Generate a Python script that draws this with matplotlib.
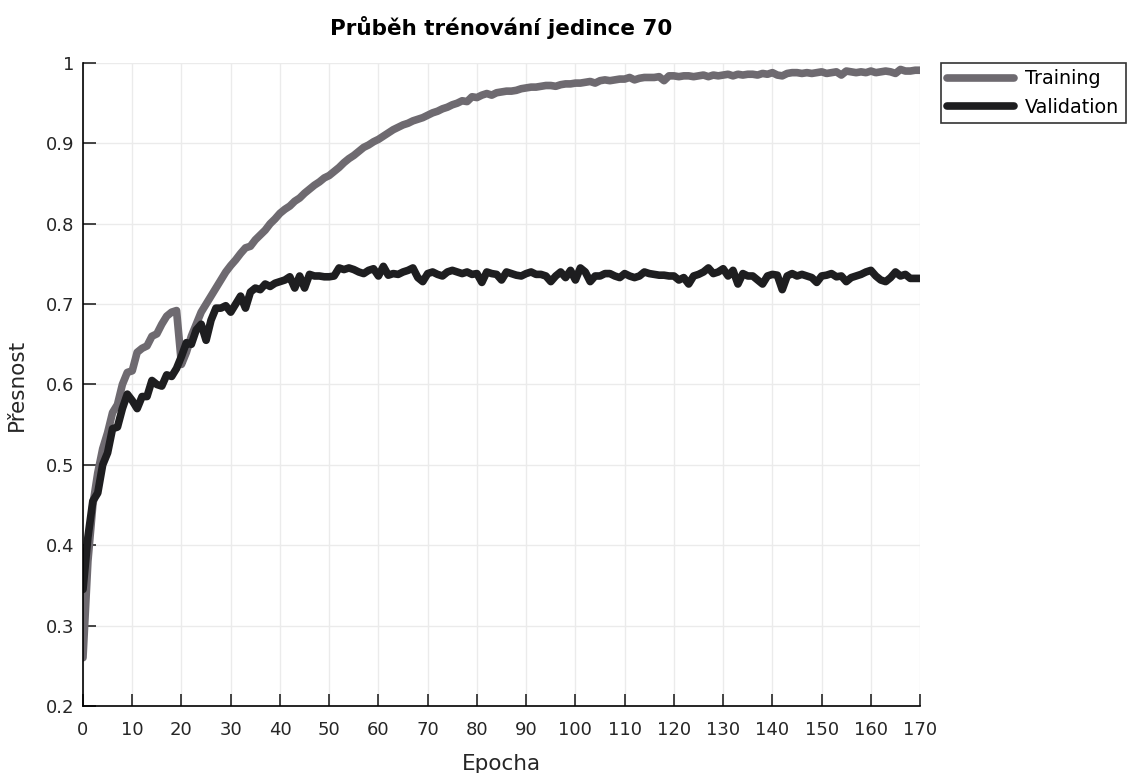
import matplotlib
matplotlib.use("Agg")
import matplotlib.pyplot as plt
import numpy as np

plt.rcParams['font.family'] = ['DejaVu Sans']

epochs = list(range(0, 171))

training = [
    0.26, 0.38, 0.45, 0.49, 0.52, 0.54, 0.565, 0.575, 0.60, 0.615,
    0.617, 0.64, 0.645, 0.648, 0.66, 0.663, 0.675, 0.685, 0.69, 0.692,
    0.625, 0.64, 0.66, 0.675, 0.69, 0.70, 0.71, 0.72, 0.73, 0.74,
    0.748, 0.755, 0.763, 0.77, 0.772, 0.78, 0.786, 0.792, 0.80, 0.806,
    0.813, 0.818, 0.822, 0.828, 0.832, 0.838, 0.843, 0.848, 0.852, 0.857,
    0.86, 0.865, 0.87, 0.876, 0.881, 0.885, 0.89, 0.895, 0.898, 0.902,
    0.905, 0.909, 0.913, 0.917, 0.92, 0.923, 0.925, 0.928, 0.930, 0.932,
    0.935, 0.938, 0.940, 0.943, 0.945, 0.948, 0.950, 0.953, 0.952, 0.958,
    0.957, 0.960, 0.962, 0.960, 0.963, 0.964, 0.965, 0.965, 0.966, 0.968,
    0.969, 0.970, 0.970, 0.971, 0.972, 0.972, 0.971, 0.973, 0.974, 0.974,
    0.975, 0.975, 0.976, 0.977, 0.975, 0.978, 0.979, 0.978, 0.979, 0.980,
    0.980, 0.982, 0.979, 0.981, 0.982, 0.982, 0.982, 0.983, 0.978, 0.984,
    0.984, 0.983, 0.984, 0.984, 0.983, 0.984, 0.985, 0.983, 0.985, 0.984,
    0.985, 0.986, 0.984, 0.986, 0.985, 0.986, 0.986, 0.985, 0.987, 0.986,
    0.988, 0.985, 0.984, 0.987, 0.988, 0.988, 0.987, 0.988, 0.987, 0.988,
    0.989, 0.987, 0.988, 0.989, 0.985, 0.990, 0.989, 0.988, 0.989, 0.988,
    0.990, 0.988, 0.989, 0.990, 0.989, 0.987, 0.992, 0.990, 0.990, 0.991,
    0.991,
]

validation = [
    0.345, 0.41, 0.455, 0.465, 0.50, 0.515, 0.545, 0.547, 0.57, 0.588,
    0.58, 0.57, 0.585, 0.585, 0.605, 0.60, 0.598, 0.612, 0.61, 0.62,
    0.635, 0.652, 0.65, 0.668, 0.675, 0.655, 0.68, 0.695, 0.695, 0.698,
    0.69, 0.70, 0.71, 0.695, 0.715, 0.72, 0.718, 0.725, 0.722, 0.726,
    0.728, 0.730, 0.734, 0.720, 0.735, 0.720, 0.737, 0.735, 0.735, 0.734,
    0.734, 0.735, 0.745, 0.743, 0.745, 0.743, 0.740, 0.738, 0.742, 0.744,
    0.735, 0.747, 0.736, 0.738, 0.737, 0.740, 0.742, 0.745, 0.733, 0.728,
    0.738, 0.740, 0.737, 0.735, 0.740, 0.742, 0.740, 0.738, 0.740, 0.737,
    0.738, 0.727, 0.740, 0.738, 0.737, 0.730, 0.740, 0.738, 0.736, 0.735,
    0.738, 0.740, 0.737, 0.737, 0.735, 0.728, 0.735, 0.740, 0.733, 0.742,
    0.730, 0.745, 0.740, 0.728, 0.735, 0.735, 0.738, 0.738, 0.735, 0.733,
    0.738, 0.735, 0.733, 0.735, 0.740, 0.738, 0.737, 0.736, 0.736, 0.735,
    0.735, 0.730, 0.733, 0.725, 0.735, 0.737, 0.740, 0.745, 0.738, 0.740,
    0.744, 0.735, 0.742, 0.725, 0.738, 0.735, 0.735, 0.730, 0.725, 0.735,
    0.737, 0.736, 0.718, 0.735, 0.738, 0.735, 0.737, 0.735, 0.733, 0.727,
    0.735, 0.736, 0.738, 0.734, 0.735, 0.728, 0.733, 0.735, 0.737, 0.740,
    0.742, 0.735, 0.730, 0.728, 0.733, 0.740, 0.735, 0.737, 0.732, 0.732,
    0.732,
]

xticks = list(range(0, 171, 10))
yticks = [0.2, 0.3, 0.4, 0.5, 0.6, 0.7, 0.8, 0.9, 1.0]
ytick_labels = ["0.2", "0.3", "0.4", "0.5", "0.6", "0.7", "0.8", "0.9", "1"]

fig = plt.figure(figsize=(11.29, 7.73), dpi=100)
ax = fig.add_axes([0.0735, 0.0867, 0.7415, 0.8318])

ax.plot(epochs, training, color="#6e6a70", lw=5.5, label="Training",
        solid_capstyle="round", solid_joinstyle="round")
ax.plot(epochs, validation, color="#1e1e20", lw=5.5, label="Validation",
        solid_capstyle="round", solid_joinstyle="round")

ax.set_xlim(0, 170)
ax.set_ylim(0.2, 1.0)
ax.set_xticks(xticks)
ax.set_yticks(yticks)
ax.set_yticklabels(ytick_labels)
ax.grid(True, color="#ebebeb", lw=1)
ax.set_axisbelow(True)
for s in ["top", "right"]:
    ax.spines[s].set_visible(False)
for s in ["left", "bottom"]:
    ax.spines[s].set_linewidth(1.2)
ax.tick_params(direction="in", length=9, width=1.2, labelsize=13,
               colors="#262626", labelcolor="#262626")
ax.tick_params(axis="x", pad=10.5)
ax.tick_params(axis="y", pad=6)

ax.set_xlabel("Epocha", fontsize=15.5, labelpad=11, color="#262626")
ax.set_ylabel("Přesnost", fontsize=15.5, labelpad=14, color="#262626")
ax.set_title("Průběh trénování jedince 70", fontsize=15.5, fontweight="bold", pad=20)

leg = fig.legend(loc="upper left", bbox_to_anchor=(941 / 1129, 1 - 63 / 773), fontsize=13.8,
                 frameon=True, fancybox=False, edgecolor="black", handlelength=3.5,
                 borderaxespad=0, borderpad=0.33, labelspacing=0.5, handletextpad=0.55)
leg.get_frame().set_linewidth(1.2)

fig.savefig("out.png", dpi=100)
